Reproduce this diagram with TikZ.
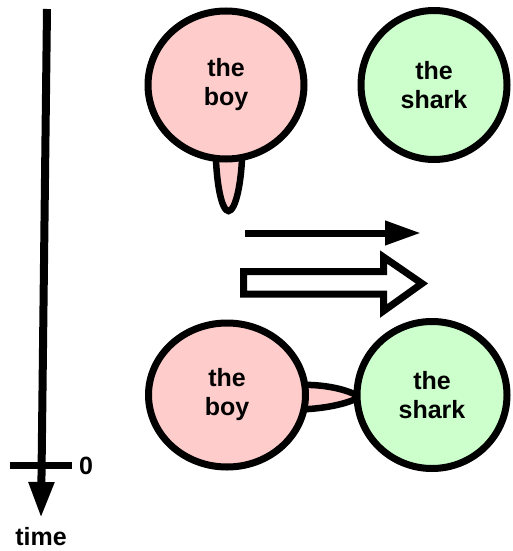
\documentclass[tikz,border=0pt]{standalone}
\usepackage{fontspec}
\setmainfont{Liberation Sans}
\usetikzlibrary{arrows.meta,shapes.geometric,backgrounds}
\definecolor{boypink}{RGB}{255,204,204}
\definecolor{sharkgreen}{RGB}{204,255,204}
\tikzset{
  entity/.style={ellipse, draw=black, line width=7pt, inner sep=0pt,
    align=center, font=\fontsize{25}{29}\selectfont\bfseries},
  boystyle/.style={entity, fill=boypink},
  sharkstyle/.style={entity, fill=sharkgreen},
  bubble/.style={draw=black, fill=boypink, line width=6.5pt},
  lbl/.style={font=\fontsize{25}{29}\selectfont\bfseries, inner sep=0pt}
}
\begin{document}
\begin{tikzpicture}[x=1pt,y=-1pt]
\useasboundingbox (0,0) rectangle (512,551);
% time axis
\coordinate (ttop) at (47,9);
\coordinate (tend) at (41,518);
\draw[line width=8pt, -{Triangle[length=36pt,width=24pt]}] (ttop) -- (tend);
\coordinate (tickL) at (10,465);
\coordinate (tickR) at (72,465);
\draw[line width=7pt] (tickL) -- (tickR);
\node[lbl, anchor=west] (zero) at (79,466) {0};
\node[lbl] (time) at (41,537) {time};
% circles
\node[boystyle, minimum width=156pt, minimum height=148pt] (boy1) at (226,85) {the\\boy};
\node[sharkstyle, minimum width=146pt, minimum height=149pt] (shark1) at (434,85) {the\\shark};
\node[boystyle, minimum width=157pt, minimum height=144pt] (boy2) at (227,395) {the\\boy};
\node[sharkstyle, minimum width=150pt, minimum height=147pt] (shark2) at (432,395) {the\\shark};
\begin{pgfonlayer}{background}
  % teardrop under top boy
  \draw[bubble] (215.5,140) .. controls (215.5,185) and (222,211) .. (228.5,211)
      .. controls (235,211) and (242.5,185) .. (242.5,140);
  % lens between bottom boy and shark
  \draw[bubble] (290,385.5) .. controls (318,383) and (345,388) .. (360,397)
      .. controls (345,405) and (318,410) .. (290,409.5);
\end{pgfonlayer}
% plain arrow
\coordinate (a1s) at (245,233);
\coordinate (a1e) at (421,233);
\draw[line width=7pt, -{Triangle[length=36pt,width=23pt]}] (a1s) -- (a1e);
% hollow arrow
\draw[line width=7pt, line join=miter, miter limit=3]
  (243.5,271.5) -- (383.5,271.5) -- (383.5,257) -- (422,283.5) -- (383.5,311)
  -- (383.5,294) -- (243.5,294) -- cycle;
\end{tikzpicture}
\end{document}
